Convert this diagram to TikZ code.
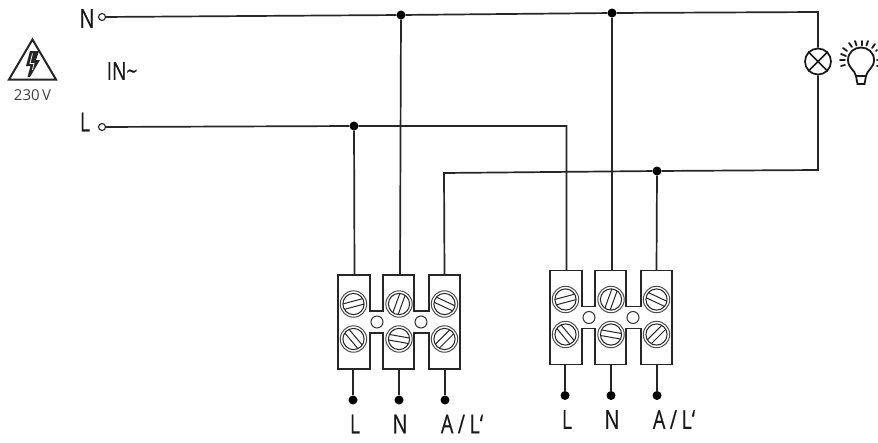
\documentclass[tikz,border=0pt]{standalone}
\usepackage{fontspec}
\setmainfont{Open Sans}
\newfontfamily\lblfont[FakeStretch=0.76,FakeBold=0.3]{Open Sans}
\tikzset{
 wire/.style={line width=1.7pt,draw=black!85},
 dotn/.style={circle,fill=black,inner sep=0pt,minimum size=9pt},
 term/.style={circle,draw=black!85,fill=white,line width=1.1pt,inner sep=0pt,minimum size=7pt},
 lbl/.style={inner sep=0pt,text=black!90,font=\lblfont\fontsize{26}{26}\selectfont},
 holeb/.style={circle,draw=black!80,line width=1pt,inner sep=0pt,minimum size=12pt},
 lampn/.style={circle,draw=black!90,line width=1.7pt,fill=white,inner sep=0pt,minimum size=26pt},
}
\newcommand{\screwhead}[3]{%
 \draw[black!70,line width=1pt,fill=white] (#1,#2) circle (13.2);
 \draw[black!85,line width=1pt] (#1,#2) circle (10.6);
 \begin{scope}[shift={(#1,#2)},rotate=#3]
  \draw[black!85,line width=1pt] (-10.2,-2.8) -- (10.2,-2.8) (-10.2,2.8) -- (10.2,2.8);
 \end{scope}}
\newcommand{\terminalblock}[3]{%
 \begin{scope}[shift={(#1,#2)}]
  \draw[line width=1.8pt,draw=black!85,line join=miter,fill=white]
   (0,0) -- (32,0) -- (32,36) -- (45,36) -- (45,0) -- (76,0) -- (76,36) -- (91,36) -- (91,0) -- (122,0)
   -- (122,94) -- (91,94) -- (91,58) -- (76,58) -- (76,94) -- (45,94) -- (45,58) -- (32,58) -- (32,94) -- (0,94) -- cycle;
  \screwhead{15.5}{29}{15}
  \screwhead{61}{29}{70}
  \screwhead{106.5}{29}{-25}
  \screwhead{15.5}{64}{-50}
  \screwhead{61}{64}{-10}
  \screwhead{106.5}{64}{45}
  \node[holeb] (#3h1) at (39,47) {};
  \node[holeb] (#3h2) at (83,47) {};
  \coordinate (#3tl) at (16.5,0);
  \coordinate (#3tn) at (62,0);
  \coordinate (#3ta) at (106.5,0);
  \coordinate (#3bl) at (15,94);
  \coordinate (#3bn) at (61,94);
  \coordinate (#3ba) at (107,94);
  \node[dotn] (#3dl) at (15,125) {};
  \node[dotn] (#3dn) at (61,125) {};
  \node[dotn] (#3da) at (107,125) {};
  \draw[wire] (#3bl) -- (#3dl);
  \draw[wire] (#3bn) -- (#3dn);
  \draw[wire] (#3ba) -- (#3da);
  \node[lbl] (#3ll) at (17,149) {L};
  \node[lbl] (#3ln) at (62,149) {N};
  \node[lbl] (#3la) at (124,149) {A\hspace{.17em}/\hspace{.17em}L‘};
 \end{scope}}
\begin{document}
\begin{tikzpicture}[x=1pt,y=-1pt]
\useasboundingbox (0,0) rectangle (878,442);
\fill[white] (0,0) rectangle (878,442);
\terminalblock{338}{275}{a}
\terminalblock{550}{270.5}{b}
\node[term] (tn) at (102,17) {};
\node[term] (tl) at (102,127) {};
\node[dotn] (j1) at (401,15) {};
\node[dotn] (j2) at (612,13) {};
\node[dotn] (j3) at (354,126) {};
\node[dotn] (j4) at (657,171) {};
\node[lampn] (lamp) at (818,61.5) {};
\coordinate (cn) at (818,12);
\coordinate (ca) at (818,170);
\coordinate (cl) at (566.5,126);
\coordinate (cb) at (444,173);
\draw[wire] (tn) -- (j1) -- (j2) -- (cn) -- (lamp);
\draw[wire] (tl) -- (j3) -- (cl) -- (btl);
\draw[wire] (j1) -- (atn);
\draw[wire] (j2) -- (btn);
\draw[wire] (j3) -- (atl);
\draw[wire] (ata) -- (cb) -- (j4) -- (ca) -- (lamp);
\draw[wire] (j4) -- (bta);
\draw[line width=1.7pt,draw=black!90] (lamp.north west) -- (lamp.south east) (lamp.north east) -- (lamp.south west);
\node[lbl] (n) at (87,18.5) {N};
\node[lbl] (l) at (85,122) {L};
\node[lbl,font=\lblfont\fontsize{25}{25}\selectfont] (in) at (122,71) {IN\string~};
\node[inner sep=0pt,text=black!75,font=\fontsize{15}{15}\selectfont] (v) at (32.5,95) {230\,V};
\draw[line width=2pt,black!85,line join=miter] (32.5,39.5) -- (56,79.5) -- (9,79.5) -- cycle;
\fill[black!85] (30,51) -- (39,51) -- (36,60) -- (40,60) -- (30,77) -- (27.5,77) -- (30.5,66) -- (26,66) -- cycle;
\draw[white,line width=.8pt,line join=miter] (32.5,53.5) -- (30,63.5) -- (34,63.5) -- (32.5,70);
\begin{scope}[black!90,line width=1.8pt,line cap=round]
 \draw[line join=round] (856,76) .. controls (855,70) and (848,68) .. (848,60)
   .. controls (848,52.5) and (854,47.5) .. (861,47.5) .. controls (868,47.5) and (874,52.5) .. (874,60)
   .. controls (874,68) and (867,70) .. (866,76) -- cycle;
 \draw (856,76) -- (857.5,84) -- (864.5,84) -- (866,76);
 \draw (841,54) -- (846,56) (840,60) -- (845,60) (841,66) -- (845,65)
   (843,48) -- (847,51) (849,43) -- (852,47) (855,41) -- (856.5,45.5) (862,41) -- (862,45.5) (868,41) -- (866.5,45.5)
   (875,44) -- (872,48) (877,50) -- (876,51) (877,60) -- (877.5,60) (877,66) -- (877.5,66);
\end{scope}
\end{tikzpicture}
\end{document}
